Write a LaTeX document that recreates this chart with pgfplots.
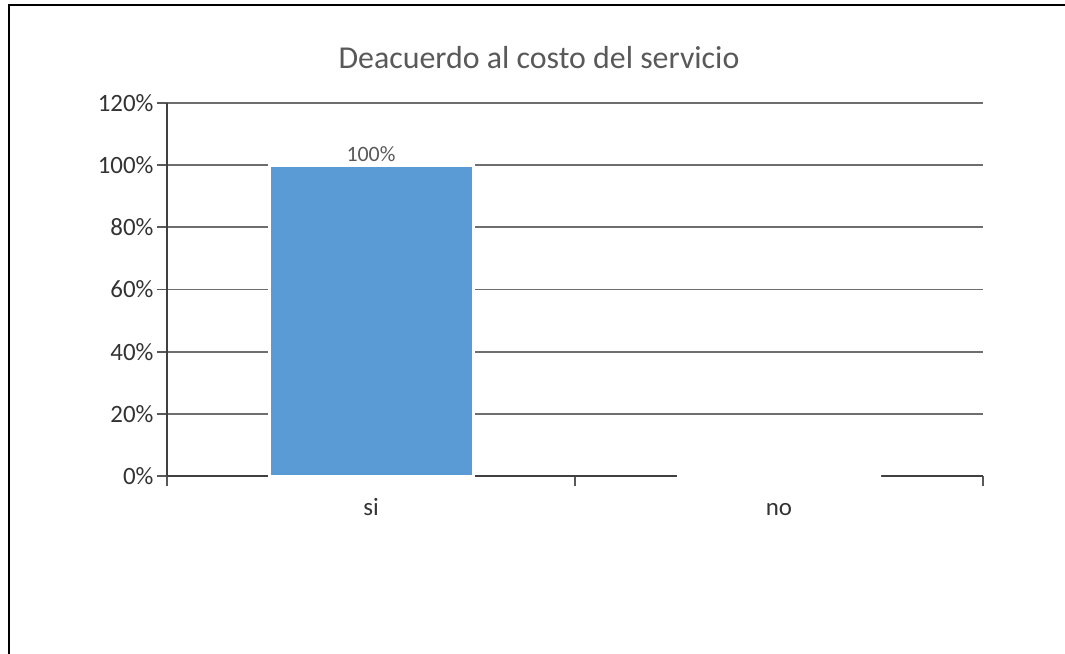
\documentclass[border=0pt]{standalone}
\usepackage{pgfplots}
\pgfplotsset{compat=1.18}
\usepackage{fontspec}
\setmainfont{Carlito}
\definecolor{barblue}{HTML}{5B9BD5}
\definecolor{txt}{HTML}{333333}
\definecolor{lbl}{HTML}{595959}
\definecolor{ttl}{HTML}{595959}
\definecolor{gridc}{HTML}{6E6E6E}
\begin{document}
\begin{tikzpicture}
\useasboundingbox (0,0) rectangle (1065bp,-654bp);
\draw[line width=2.5bp] (9bp,-654bp) -- (9bp,-5bp) -- (1065bp,-5bp);
\node[text=ttl, font=\fontsize{32}{38}\selectfont] at (539bp,-58bp) {Deacuerdo al costo del servicio};
\begin{axis}[
 at={(167bp,-476bp)}, anchor=south west,
 scale only axis, width=816bp, height=373bp,
 xmin=-0.5, xmax=1.5, ymin=0, ymax=120,
 clip=false,
 axis y line*=left, axis x line*=bottom,
 axis line style={draw=black!75, line width=1.7bp},
 ytick={0,20,...,120},
 yticklabel={\pgfmathprintnumber{\tick}\%},
 xtick={-0.5,0.5,1.5}, xticklabels={,,},
 extra x ticks={0,1}, extra x tick labels={si,no},
 extra x tick style={major tick length=0pt, xticklabel style={anchor=base, yshift=-39bp}},
 major tick length=10bp,
 tick align=outside,
 tick style={draw=black!65, line width=1.7bp},
 ymajorgrids, major grid style={draw=gridc, line width=1.7bp},
 ticklabel style={text=txt, font=\fontsize{25}{30}\selectfont},
 /pgf/number format/assume math mode=true,
 ybar, bar width=204bp,
]
\addplot[fill=barblue, draw=white, line width=3bp, point meta=explicit symbolic, nodes near coords, every node near coord/.append style={text=lbl, font=\fontsize{22}{26}\selectfont, inner sep=2bp}] coordinates {(0,100) [100\%] (1,0) [\mbox{}]};
\end{axis}
\end{tikzpicture}
\end{document}
